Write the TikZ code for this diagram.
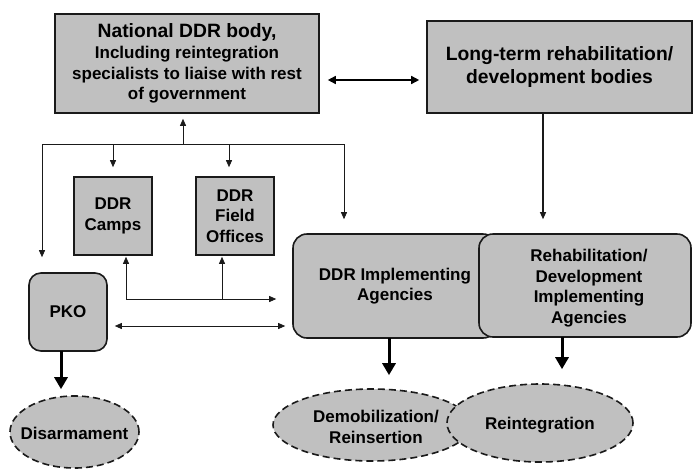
\documentclass[tikz,border=0pt]{standalone}
\usepackage{fontspec}
\setmainfont{Liberation Sans}
\usetikzlibrary{arrows.meta,shapes.geometric,calc}
\definecolor{boxgray}{HTML}{C0C0C0}
\definecolor{linegray}{HTML}{1A1A1A}
\begin{document}
\begin{tikzpicture}[x=1pt,y=-1pt,
  box/.style={draw=linegray, line width=1.6pt, fill=boxgray, align=center,
    font=\bfseries\fontsize{17}{20.7}\selectfont, inner sep=0pt},
  rbox/.style={box, rounded corners=14pt},
  ell/.style={ellipse, draw=linegray, line width=1.6pt, fill=boxgray, dash pattern=on 7pt off 4pt,
    inner sep=0pt},
  elltext/.style={align=center, font=\bfseries\fontsize{17}{20.7}\selectfont, inner sep=0pt},
  thin/.style={draw=linegray, line width=0.8pt, -{Triangle[length=7pt,width=6pt]}},
  thinboth/.style={draw=linegray, line width=0.8pt, {Triangle[length=7pt,width=6pt]}-{Triangle[length=7pt,width=6pt]}},
  med/.style={draw=black, line width=1.5pt, {Triangle[length=8pt,width=8pt]}-{Triangle[length=8pt,width=8pt]}},
  thick/.style={draw=black, line width=3pt, -{Triangle[length=12pt,width=13pt]}},
  plain/.style={draw=linegray, line width=0.8pt}
]
\useasboundingbox (0,0) rectangle (693,469);

% boxes
\node[box, minimum width=264pt, minimum height=99pt] (nat) at (187,63.5)
  {{\fontsize{19.3}{22}\selectfont National DDR body,}\\Including reintegration\\specialists to liaise with rest\\of government};
\node[box, minimum width=265pt, minimum height=92pt, font=\bfseries\fontsize{19.3}{23}\selectfont] (lt) at (559.5,67)
  {Long-term rehabilitation/\\development bodies};
\node[box, minimum width=78pt, minimum height=78pt] (camps) at (113,216) {DDR\\Camps};
\node[box, minimum width=78pt, minimum height=78pt] (field) at (235,216) {DDR\\Field\\Offices};
\node[rbox, rounded corners=12pt, minimum width=78pt, minimum height=78pt] (pko) at (68,312) {PKO};
\node[rbox, minimum width=204pt, minimum height=104pt] (ddr) at (395,286) {DDR Implementing\\Agencies};
\node[rbox, minimum width=212pt, minimum height=103pt] (rehab) at (585,285.5) {};
\node[elltext, font=\bfseries\fontsize{17}{20.7}\selectfont] (rehabtxt) at (589,288)
  {Rehabilitation/\\Development\\Implementing\\Agencies};

% ellipses
\node[ell, minimum width=129pt, minimum height=72pt] (dis) at (74.5,432) {};
\node[elltext] (distxt) at (74.5,433) {Disarmament};
\node[ell, minimum width=198pt, minimum height=72pt] (demob) at (372,425) {};
\node[elltext] (demobtxt) at (376,427) {Demobilization/\\Reinsertion};
\node[ell, minimum width=186pt, minimum height=78pt] (reint) at (540,423) {};
\node[elltext] (reinttxt) at (540,425) {Reintegration};

% national <-> long-term
\draw[med, shorten <=8pt, shorten >=7pt] (nat.east |- 0,80) -- (lt.west |- 0,80);

% bus
\coordinate (busL) at (42,144);
\coordinate (busR) at (344,144);
\coordinate (busUp) at (183,144);
\coordinate (busC) at (113,144);
\coordinate (busF) at (229,144);
\draw[plain] (busL) -- (busR);
\draw[thin, shorten >=5pt] (busUp) -- (busUp |- nat.south);
\draw[thin, shorten >=9pt] (busC) -- (busC |- camps.north);
\draw[thin, shorten >=9pt] (busF) -- (busF |- field.north);
\draw[thin, shorten >=15pt] (busL) -- (busL |- pko.north);
\draw[thin, shorten >=14pt] (busR) -- (busR |- ddr.north);

% camps / field offices to DDR implementing
\coordinate (j1) at (126,299);
\coordinate (j2) at (222,299);
\draw[thin, shorten >=1pt] (j1) -- (j1 |- camps.south);
\draw[thin, shorten >=1pt] (j2) -- (j2 |- field.south);
\draw[thin, shorten >=16pt] (j1) -- (j1 -| ddr.west);

% PKO <-> DDR implementing
\draw[thinboth, shorten <=7pt, shorten >=7pt] (pko.east |- 0,326) -- (ddr.west |- 0,326);

% long-term down to rehab
\coordinate (ltd) at (543,113);
\draw[thin, line width=1.2pt, shorten >=14pt] (ltd) -- (ltd |- rehab.north);

% thick arrows
\coordinate (p1) at (61,351);
\draw[thick, shorten >=6pt] (p1) -- (p1 |- dis.north);
\coordinate (p2) at (389,338);
\draw[thick, shorten >=13pt] (p2) -- (p2 |- demob.north);
\coordinate (p3) at (562,337);
\draw[thick, shorten >=14pt] (p3) -- (p3 |- reint.north);
\end{tikzpicture}
\end{document}
